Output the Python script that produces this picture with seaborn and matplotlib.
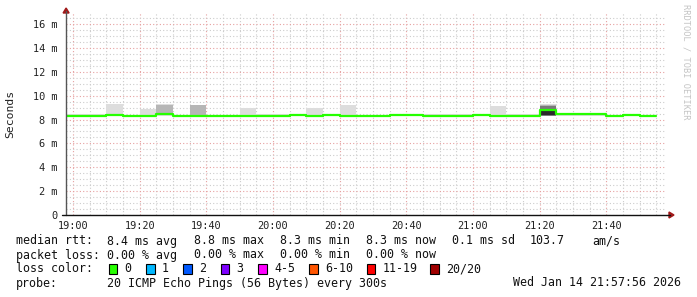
import numpy as np
import pandas as pd
import matplotlib
matplotlib.use("Agg")
import matplotlib.pyplot as plt
import seaborn as sns
from matplotlib.patches import Rectangle, Polygon
from matplotlib.lines import Line2D
from matplotlib.ticker import MultipleLocator

sns.set_theme(style="white")
plt.rcParams['font.family'] = ['DejaVu Sans Mono', 'DejaVu Sans']

# ---------------- data ----------------
slot_start = pd.date_range("2026-01-14 18:55", periods=36, freq="5min")
window_start = pd.Timestamp("2026-01-14 18:57:56")
window_end = pd.Timestamp("2026-01-14 21:57:56")
ref_time = pd.Timestamp("2026-01-14 19:00")
tick_labels = ["19:00", "19:20", "19:40", "20:00", "20:20", "20:40", "21:00", "21:20", "21:40"]
ytick_values = [0, 2, 4, 6, 8, 10, 12, 14, 16]
ytick_labels = ["0", "2 m", "4 m", "6 m", "8 m", "10 m", "12 m", "14 m", "16 m"]

# median rtt (ms) per 5-minute step
median_rtt = [8.33, 8.33, 8.33, 8.35, 8.33, 8.33, 8.42, 8.33, 8.33, 8.33, 8.33, 8.33,
              8.33, 8.33, 8.40, 8.33, 8.40, 8.33, 8.33, 8.33, 8.40, 8.40, 8.33, 8.33,
              8.33, 8.40, 8.33, 8.33, 8.33, 8.80, 8.42, 8.42, 8.42, 8.33, 8.40, 8.33]

# smoke: outer (lightest) band
smoke1_lo = [8.30] * 36
smoke1_hi = [8.45, 8.45, 8.45, 9.27, 8.33, 8.90, 9.33, 8.33, 9.22, 8.33, 8.33, 8.97,
             8.50, 8.47, 8.40, 8.97, 8.40, 9.20, 8.33, 8.33, 8.40, 8.40, 8.46, 8.46,
             8.46, 8.40, 9.12, 8.46, 8.46, 9.32, 8.50, 8.45, 8.45, 8.33, 8.50, 8.33]
# smoke: second band
smoke2_lo = [None, None, None, 8.35, None, None, 8.42, None, 8.40, None, None, None,
             None, None, None, None, None, None, None, None, None, None, None, None,
             None, None, None, None, None, 8.32, None, None, None, None, None, None]
smoke2_hi = [None, None, None, 8.50, None, None, 9.20, None, 9.20, None, None, None,
             None, None, None, None, None, None, None, None, None, None, None, None,
             None, None, None, None, None, 9.20, None, None, None, None, None, None]
# smoke: third band
smoke3_lo = [None] * 29 + [8.33] + [None] * 6
smoke3_hi = [None] * 29 + [9.15] + [None] * 6
# smoke: core band
smoke4_lo = [None] * 29 + [8.35] + [None] * 6
smoke4_hi = [None] * 29 + [8.70] + [None] * 6

loss_labels = ["0", "1", "2", "3", "4-5", "6-10", "11-19", "20/20"]
loss_colors = ["#26ff00", "#00b8ff", "#0059ff", "#7e00ff", "#ff00ff", "#ff5500", "#ff0000", "#a00000"]

legend_rows = [
    ["median rtt:", "8.4 ms avg", "8.8 ms max", "8.3 ms min", "8.3 ms now", "0.1 ms sd", "103.7", "am/s"],
    ["packet loss:", "0.00 % avg", "0.00 % max", "0.00 % min", "0.00 % now"],
]
probe_text = "20 ICMP Echo Pings (56 Bytes) every 300s"
date_text = "Wed Jan 14 21:57:56 2026"

# ---------------- layout ----------------
W, H = 697, 297
fig = plt.figure(figsize=(W / 100, H / 100), dpi=100)
fig.patch.set_facecolor("white")

ax_left, ax_right, ax_top, ax_bot = 66.1, 666.1, 13.0, 215.0
ax = fig.add_axes([ax_left / W, 1 - ax_bot / H, (ax_right - ax_left) / W, (ax_bot - ax_top) / H])
ax.set_facecolor("white")

def minutes(ts):
    return (ts - ref_time).total_seconds() / 60.0

x_start = np.array([minutes(t) for t in slot_start])
step = 5.0

def arr(v):
    return np.array([np.nan if a is None else a for a in v], dtype=float)

bands = [
    (smoke1_lo, smoke1_hi, "#dddddd"),
    (smoke2_lo, smoke2_hi, "#b6b6b6"),
    (smoke3_lo, smoke3_hi, "#7a7a7a"),
    (smoke4_lo, smoke4_hi, "#2a2a2a"),
]
for lo, hi, col in bands:
    lo = arr(lo); hi = arr(hi)
    ax.bar(x_start, hi - lo, bottom=lo, width=step, align="edge", color=col,
           linewidth=0, zorder=2)

x_line = np.append(x_start, x_start[-1] + step)
y_line = np.append(np.array(median_rtt), median_rtt[-1])
sns.lineplot(x=x_line, y=y_line, ax=ax, color="#26ff00", lw=1.6, drawstyle="steps-post",
             estimator=None, sort=False, legend=False, zorder=3)

ax.set_xlim(minutes(window_start), minutes(window_end))
ymax = (ax_bot - ax_top) / ((215 - 24) / 16.0)
ax.set_ylim(0, ymax)

ax.set_xticks(np.arange(0, 161, 20))
ax.set_xticklabels(tick_labels)
ax.xaxis.set_minor_locator(MultipleLocator(5))
ax.set_yticks(ytick_values)
ax.set_yticklabels(ytick_labels)
ax.yaxis.set_minor_locator(MultipleLocator(0.5))

ax.set_axisbelow(True)
ax.grid(which="minor", color="#cccccc", linestyle=(0, (1, 2)), lw=0.8)
ax.grid(which="major", color="#e6a0a0", linestyle=(0, (1, 2)), lw=0.8)

tick_fs = 7.4
ax.tick_params(axis="y", which="major", length=2.5, width=0.8, color="#555555",
               direction="out", pad=3.5, labelsize=tick_fs, labelcolor="#222222")
ax.tick_params(axis="y", which="minor", length=0)
ax.tick_params(axis="x", which="major", length=2, width=0.8, color="#333333",
               direction="out", pad=2.5, labelsize=tick_fs, labelcolor="#222222")
ax.tick_params(axis="x", which="minor", length=0)
ax.set_xlabel("")
ax.set_ylabel("")

for s in ["top", "right", "left", "bottom"]:
    ax.spines[s].set_visible(False)

def fx(x):
    return x / W

def fy(y):
    return 1 - y / H

# axis lines with arrows
fig.add_artist(Line2D([fx(ax_left), fx(ax_left)], [fy(215), fy(11)], color="#555555", lw=1.0))
fig.add_artist(Line2D([fx(62), fx(670)], [fy(215), fy(215)], color="#111111", lw=1.0))
fig.add_artist(Polygon([[fx(ax_left - 3), fy(13)], [fx(ax_left + 3), fy(13)], [fx(ax_left), fy(8)]],
                       closed=True, color="#a01818", transform=fig.transFigure))
fig.add_artist(Polygon([[fx(669), fy(212)], [fx(669), fy(218)], [fx(674), fy(215)]],
                       closed=True, color="#a01818", transform=fig.transFigure))

# y label and watermark
fig.text(fx(10), fy(114), "Seconds", rotation=90, ha="center", va="center", fontsize=8.2, color="#222222")
fig.text(fx(686), fy(4), "RRDTOOL / TOBI OETIKER", rotation=270, ha="center", va="top",
         fontsize=6.2, color="#c4c4c4")

# legend
fs = 8.4
row_y = [241, 255, 269, 283]
row1_x = [16, 107, 194, 280, 366, 452, 530, 592]
row2_x = [16, 107, 194, 280, 366]
for s, x in zip(legend_rows[0], row1_x):
    fig.text(fx(x), fy(row_y[0]), s, ha="left", va="center", fontsize=fs, color="#111111")
for s, x in zip(legend_rows[1], row2_x):
    fig.text(fx(x), fy(row_y[1]), s, ha="left", va="center", fontsize=fs, color="#111111")

fig.text(fx(16), fy(row_y[2]), "loss color:", ha="left", va="center", fontsize=fs, color="#111111")
box_x = [108.5, 146, 183, 220.5, 258, 309, 366.5, 430]
for lab, col, bx in zip(loss_labels, loss_colors, box_x):
    fig.add_artist(Rectangle((fx(bx), fy(row_y[2] + 4.5)), 8.5 / W, 9.5 / H, transform=fig.transFigure,
                             facecolor=col, edgecolor="#000000", lw=0.8))
    fig.text(fx(bx + 16), fy(row_y[2]), lab, ha="left", va="center", fontsize=fs, color="#111111")

fig.text(fx(16), fy(row_y[3]), "probe:", ha="left", va="center", fontsize=fs, color="#111111")
fig.text(fx(107), fy(row_y[3]), probe_text, ha="left", va="center", fontsize=fs, color="#111111")
fig.text(fx(681), fy(row_y[3]), date_text, ha="right", va="center", fontsize=fs, color="#111111")

fig.savefig("out.png", dpi=100, facecolor="white")
